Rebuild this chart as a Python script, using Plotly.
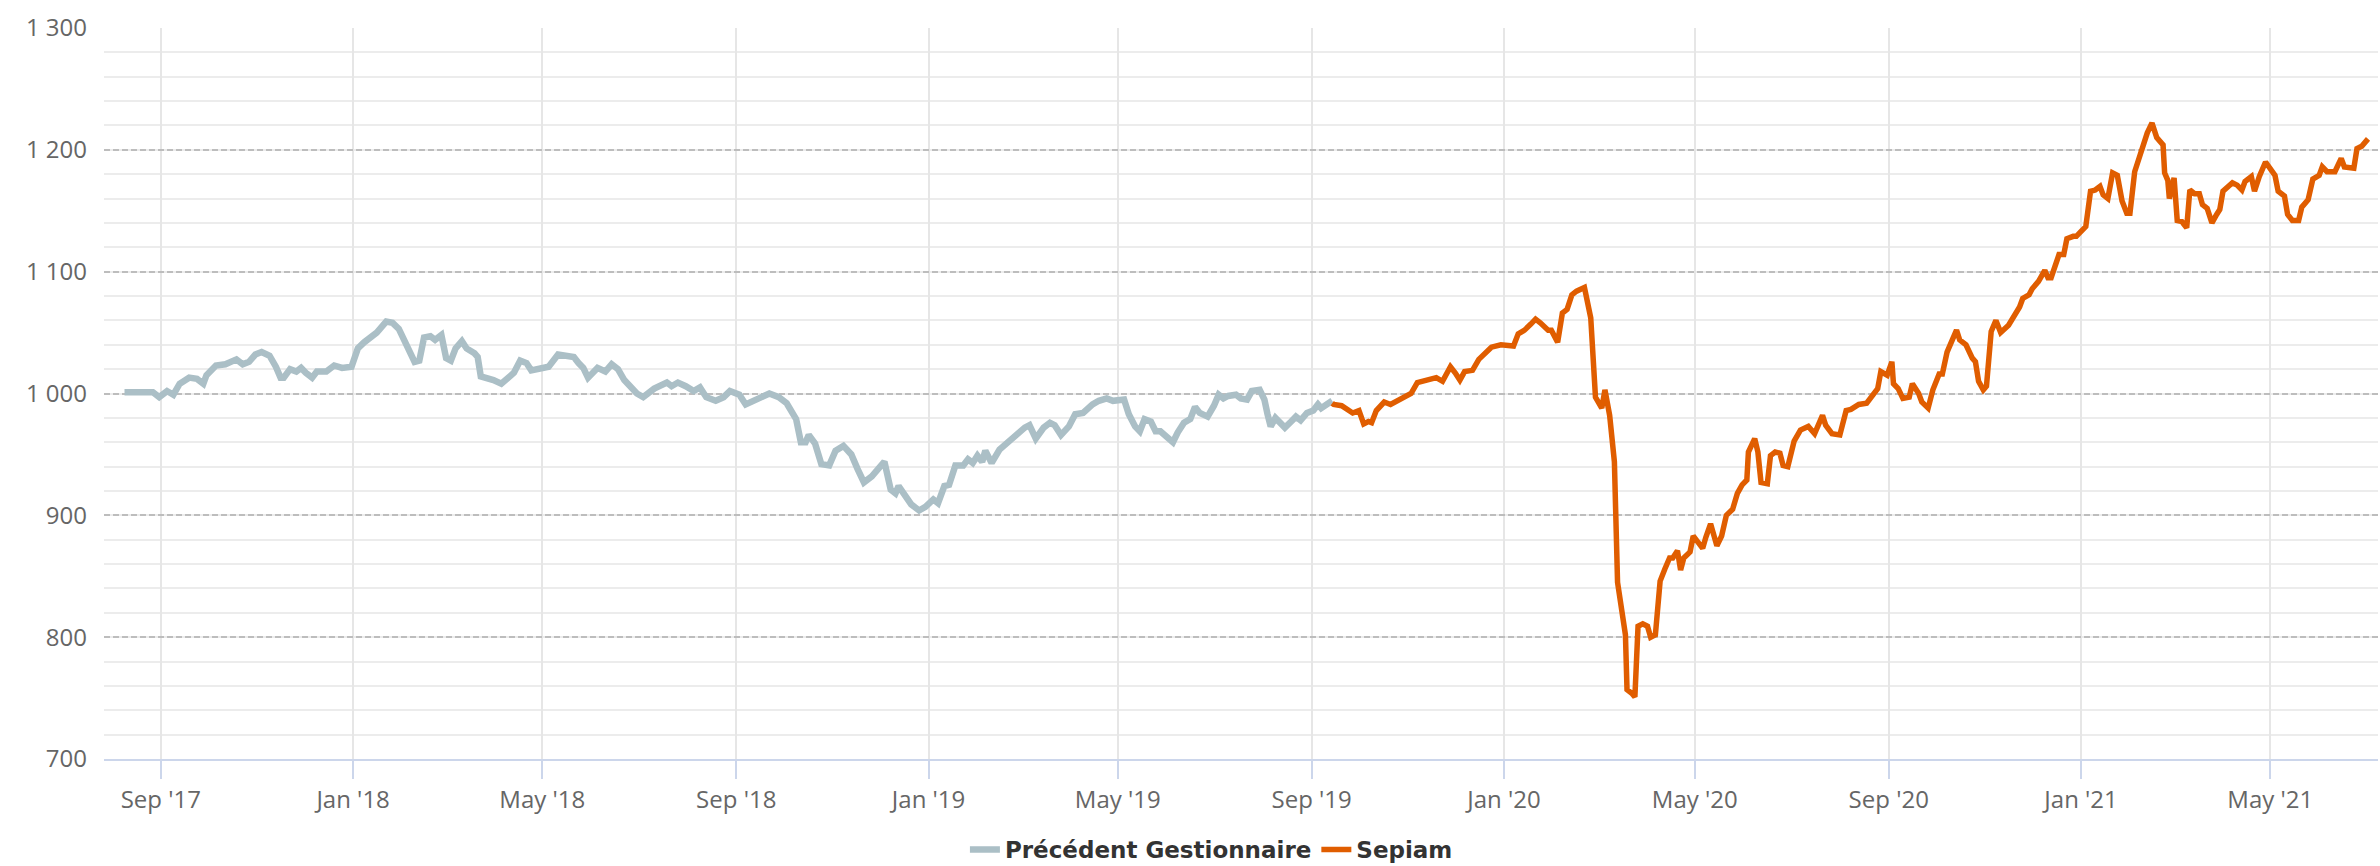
import plotly.graph_objects as go

# ---- data ----
grey_name = "Précédent Gestionnaire"
grey_dates = [
    "2017-08-09", "2017-08-27", "2017-08-31", "2017-09-05", "2017-09-09", "2017-09-13", "2017-09-19",
    "2017-09-24", "2017-09-28", "2017-09-30", "2017-10-06", "2017-10-12", "2017-10-19", "2017-10-23",
    "2017-10-27", "2017-10-31", "2017-11-04", "2017-11-09", "2017-11-13", "2017-11-16", "2017-11-18",
    "2017-11-22", "2017-11-26", "2017-11-29", "2017-12-02", "2017-12-06", "2017-12-09", "2017-12-15",
    "2017-12-20", "2017-12-25", "2017-12-31", "2018-01-04", "2018-01-08", "2018-01-12", "2018-01-16",
    "2018-01-22", "2018-01-26", "2018-01-30", "2018-02-02", "2018-02-05", "2018-02-09", "2018-02-12",
    "2018-02-15", "2018-02-19", "2018-02-22", "2018-02-26", "2018-03-01", "2018-03-04", "2018-03-07",
    "2018-03-11", "2018-03-14", "2018-03-19", "2018-03-21", "2018-03-23", "2018-03-27", "2018-03-31",
    "2018-04-05", "2018-04-09", "2018-04-13", "2018-04-17", "2018-04-21", "2018-04-24", "2018-04-30",
    "2018-05-05", "2018-05-11", "2018-05-17", "2018-05-21", "2018-05-24", "2018-05-27", "2018-05-30",
    "2018-06-05", "2018-06-10", "2018-06-14", "2018-06-18", "2018-06-22", "2018-06-30", "2018-07-04",
    "2018-07-11", "2018-07-19", "2018-07-22", "2018-07-26", "2018-07-31", "2018-08-05", "2018-08-09",
    "2018-08-13", "2018-08-19", "2018-08-24", "2018-08-28", "2018-09-03", "2018-09-07", "2018-09-15",
    "2018-09-22", "2018-09-28", "2018-10-03", "2018-10-09", "2018-10-12", "2018-10-15", "2018-10-17",
    "2018-10-21", "2018-10-25", "2018-10-30", "2018-11-03", "2018-11-08", "2018-11-13", "2018-11-17",
    "2018-11-21", "2018-11-26", "2018-12-04", "2018-12-08", "2018-12-11", "2018-12-13", "2018-12-17",
    "2018-12-21", "2018-12-26", "2018-12-30", "2019-01-04", "2019-01-07", "2019-01-11", "2019-01-14",
    "2019-01-18", "2019-01-23", "2019-01-26", "2019-01-29", "2019-02-01", "2019-02-04", "2019-02-06",
    "2019-02-10", "2019-02-15", "2019-02-21", "2019-02-25", "2019-03-03", "2019-03-06", "2019-03-10",
    "2019-03-15", "2019-03-19", "2019-03-22", "2019-03-26", "2019-03-31", "2019-04-04", "2019-04-09",
    "2019-04-12", "2019-04-15", "2019-04-19", "2019-04-24", "2019-04-28", "2019-05-02", "2019-05-05",
    "2019-05-08", "2019-05-12", "2019-05-15", "2019-05-18", "2019-05-22", "2019-05-25", "2019-05-28",
    "2019-06-01", "2019-06-05", "2019-06-08", "2019-06-12", "2019-06-16", "2019-06-19", "2019-06-22",
    "2019-06-27", "2019-07-01", "2019-07-04", "2019-07-07", "2019-07-10", "2019-07-15", "2019-07-18",
    "2019-07-22", "2019-07-25", "2019-07-30", "2019-08-02", "2019-08-04", "2019-08-06", "2019-08-09",
    "2019-08-12", "2019-08-15", "2019-08-19", "2019-08-22", "2019-08-25", "2019-08-29", "2019-09-02",
    "2019-09-05", "2019-09-07", "2019-09-11", "2019-09-14",
]
grey_values = [
    1001, 1001, 997, 1002, 999, 1008, 1013,
    1012, 1008, 1015, 1023, 1024, 1028, 1024,
    1026, 1032, 1034, 1031, 1022, 1013, 1013,
    1020, 1018, 1021, 1017, 1013, 1018, 1018,
    1023, 1021, 1022, 1037, 1042, 1046, 1050,
    1059, 1058, 1053, 1044, 1035, 1026, 1027,
    1046, 1047, 1044, 1048, 1029, 1027, 1037,
    1043, 1037, 1033, 1030, 1014, 1013, 1011,
    1008, 1013, 1017, 1027, 1025, 1019, 1021,
    1022, 1032, 1030, 1030, 1025, 1021, 1013,
    1021, 1018, 1024, 1020, 1011, 1000, 997,
    1004, 1009, 1006, 1009, 1006, 1002, 1005,
    997, 994, 997, 1002, 999, 991, 996,
    1000, 997, 992, 979, 960, 960, 966,
    959, 942, 941, 953, 957, 950, 938,
    927, 932, 944, 921, 918, 924, 916,
    909, 904, 907, 913, 910, 924, 925,
    941, 941, 946, 943, 949, 944, 953,
    943, 954, 961, 964, 972, 974, 963,
    972, 976, 974, 966, 973, 983, 984,
    988, 991, 994, 996, 994, 994, 995,
    983, 973, 969, 979, 977, 969, 969,
    964, 960, 968, 976, 979, 989, 984,
    981, 990, 999, 996, 998, 999, 996,
    995, 1002, 1003, 995, 983, 973, 980,
    975, 972, 977, 981, 978, 984, 986,
    991, 988, 992, 994,
]

orange_name = "Sepiam"
orange_dates = [
    "2019-09-14", "2019-09-15", "2019-09-20", "2019-09-24", "2019-09-27", "2019-10-01", "2019-10-04",
    "2019-10-07", "2019-10-09", "2019-10-12", "2019-10-17", "2019-10-21", "2019-10-25", "2019-10-29",
    "2019-11-03", "2019-11-07", "2019-11-12", "2019-11-16", "2019-11-19", "2019-11-23", "2019-11-28",
    "2019-12-01", "2019-12-04", "2019-12-07", "2019-12-12", "2019-12-16", "2019-12-20", "2019-12-24",
    "2019-12-30", "2020-01-03", "2020-01-07", "2020-01-10", "2020-01-14", "2020-01-18", "2020-01-21",
    "2020-01-24", "2020-01-29", "2020-01-31", "2020-02-02", "2020-02-04", "2020-02-07", "2020-02-10",
    "2020-02-13", "2020-02-16", "2020-02-21", "2020-02-25", "2020-02-28", "2020-03-03", "2020-03-05",
    "2020-03-08", "2020-03-11", "2020-03-12", "2020-03-13", "2020-03-18", "2020-03-19", "2020-03-22",
    "2020-03-24", "2020-03-26", "2020-03-29", "2020-04-01", "2020-04-03", "2020-04-06", "2020-04-08",
    "2020-04-09", "2020-04-12", "2020-04-15", "2020-04-17", "2020-04-20", "2020-04-22", "2020-04-24",
    "2020-04-28", "2020-04-30", "2020-05-03", "2020-05-06", "2020-05-08", "2020-05-11", "2020-05-15",
    "2020-05-18", "2020-05-21", "2020-05-25", "2020-05-28", "2020-05-31", "2020-06-03", "2020-06-04",
    "2020-06-08", "2020-06-10", "2020-06-12", "2020-06-16", "2020-06-18", "2020-06-21", "2020-06-24",
    "2020-06-26", "2020-06-29", "2020-07-03", "2020-07-07", "2020-07-12", "2020-07-16", "2020-07-21",
    "2020-07-23", "2020-07-27", "2020-08-01", "2020-08-05", "2020-08-08", "2020-08-13", "2020-08-18",
    "2020-08-21", "2020-08-25", "2020-08-27", "2020-08-31", "2020-09-03", "2020-09-04", "2020-09-07",
    "2020-09-10", "2020-09-14", "2020-09-16", "2020-09-20", "2020-09-22", "2020-09-26", "2020-09-29",
    "2020-10-03", "2020-10-05", "2020-10-08", "2020-10-10", "2020-10-14", "2020-10-16", "2020-10-20",
    "2020-10-24", "2020-10-26", "2020-10-28", "2020-10-31", "2020-11-02", "2020-11-05", "2020-11-08",
    "2020-11-11", "2020-11-16", "2020-11-18", "2020-11-20", "2020-11-23", "2020-11-25", "2020-11-29",
    "2020-12-01", "2020-12-05", "2020-12-09", "2020-12-11", "2020-12-13", "2020-12-16", "2020-12-18",
    "2020-12-21", "2020-12-23", "2020-12-27", "2020-12-29", "2021-01-01", "2021-01-04", "2021-01-07",
    "2021-01-10", "2021-01-13", "2021-01-15", "2021-01-18", "2021-01-21", "2021-01-24", "2021-01-27",
    "2021-01-30", "2021-02-01", "2021-02-04", "2021-02-07", "2021-02-10", "2021-02-12", "2021-02-15",
    "2021-02-18", "2021-02-22", "2021-02-23", "2021-02-25", "2021-02-26", "2021-03-01", "2021-03-03",
    "2021-03-06", "2021-03-09", "2021-03-11", "2021-03-14", "2021-03-17", "2021-03-19", "2021-03-22",
    "2021-03-25", "2021-03-28", "2021-03-30", "2021-04-01", "2021-04-04", "2021-04-07", "2021-04-10",
    "2021-04-13", "2021-04-15", "2021-04-19", "2021-04-21", "2021-04-24", "2021-04-28", "2021-05-02",
    "2021-05-04", "2021-05-06", "2021-05-10", "2021-05-12", "2021-05-15", "2021-05-19", "2021-05-21",
    "2021-05-25", "2021-05-28", "2021-06-01", "2021-06-03", "2021-06-06", "2021-06-11", "2021-06-15",
    "2021-06-17", "2021-06-23", "2021-06-25", "2021-06-28", "2021-07-02",
]
orange_values = [
    992, 991, 990, 986, 984, 986, 975,
    977, 976, 986, 993, 991, 994, 997,
    1000, 1009, 1011, 1012, 1013, 1010, 1022,
    1017, 1011, 1018, 1019, 1028, 1033, 1038,
    1040, 1040, 1039, 1049, 1052, 1057, 1061,
    1058, 1052, 1052, 1046, 1042, 1066, 1069,
    1081, 1084, 1087, 1062, 997, 988, 1003,
    982, 944, 908, 845, 802, 757, 754,
    751, 809, 811, 809, 800, 802, 831,
    846, 856, 865, 865, 871, 855, 865,
    870, 883, 878, 873, 882, 893, 875,
    883, 900, 905, 918, 925, 929, 952,
    963, 952, 927, 926, 949, 952, 951,
    941, 940, 961, 970, 973, 967, 982,
    974, 967, 966, 986, 987, 991, 992,
    997, 1004, 1018, 1015, 1026, 1008, 1004,
    996, 997, 1008, 1000, 993, 988, 1003,
    1016, 1016, 1034, 1040, 1052, 1044, 1040,
    1029, 1026, 1010, 1003, 1006, 1051, 1060,
    1050, 1056, 1060, 1066, 1071, 1078, 1081,
    1086, 1092, 1101, 1095, 1095, 1106, 1114,
    1114, 1127, 1129, 1129, 1133, 1137, 1166,
    1167, 1170, 1163, 1160, 1181, 1179, 1158,
    1148, 1148, 1182, 1194, 1208, 1214, 1222,
    1210, 1204, 1181, 1175, 1160, 1177, 1142,
    1141, 1136, 1167, 1164, 1164, 1155, 1152,
    1140, 1147, 1151, 1166, 1170, 1173, 1171,
    1167, 1174, 1178, 1166, 1178, 1190, 1182,
    1179, 1166, 1162, 1147, 1142, 1142, 1153,
    1159, 1176, 1179, 1186, 1182, 1182, 1193,
    1186, 1185, 1201, 1203, 1209,
]

y_ticks = [700, 800, 900, 1000, 1100, 1200, 1300]

GREY = "#abbfc6"
ORANGE = "#e05d00"
FONT = "Open Sans, Liberation Sans, sans-serif"
LEGEND_FONT = "DejaVu Sans, Open Sans, sans-serif"

fig = go.Figure()
fig.add_trace(go.Scatter(
    x=grey_dates, y=grey_values, name=grey_name, mode="lines",
    line=dict(color=GREY, width=6.5), hoverinfo="skip",
))
fig.add_trace(go.Scatter(
    x=orange_dates, y=orange_values, name=orange_name, mode="lines",
    line=dict(color=ORANGE, width=5.5), hoverinfo="skip",
))

fig.update_layout(
    width=2380, height=866,
    margin=dict(l=104, r=2, t=28, b=107),
    plot_bgcolor="white", paper_bgcolor="white",
    separators=". ",
    font=dict(family=FONT, size=23, color="#666666"),
    showlegend=True,
    legend=dict(
        orientation="h", xref="container", yref="container",
        x=0.509, xanchor="center", y=0.019, yanchor="middle",
        font=dict(family=LEGEND_FONT, size=23, color="#333333", weight="bold"),
        itemwidth=30, tracegroupgap=0, bgcolor="rgba(0,0,0,0)",
    ),
)
fig.update_xaxes(
    type="date",
    range=["2017-07-27", "2021-07-08 08:00"],
    tick0="2017-09-01", dtick="M4", tickformat="%b '%y",
    showgrid=True, gridcolor="#e6e6e6", gridwidth=2,
    ticks="outside", ticklen=18, tickwidth=2, tickcolor="#ccd6eb",
    showline=True, linecolor="#ccd6eb", linewidth=2,
    tickfont=dict(family=FONT, size=24, color="#666666"),
    zeroline=False,
)
fig.update_yaxes(
    range=[700, 1300], tickvals=y_ticks, separatethousands=True,
    showgrid=True, gridcolor="#bdbdbd", gridwidth=2, griddash="6px,3px",
    minor=dict(dtick=20, showgrid=True, gridcolor="#ececec", gridwidth=2, griddash="solid"),
    ticks="", ticklabelstandoff=16, showline=False, zeroline=False,
    tickfont=dict(family=FONT, size=24, color="#666666"),
)

fig.write_html(
    "out.html",
    config={"displayModeBar": False},
    post_script="document.body.style.margin='0';document.body.style.padding='0';document.documentElement.style.overflow='hidden';",
)
